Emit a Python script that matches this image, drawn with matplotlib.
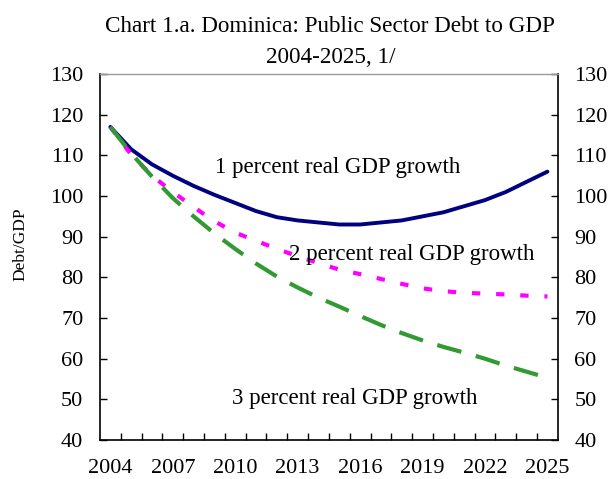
import matplotlib.pyplot as plt
from matplotlib.ticker import MultipleLocator

plt.rcParams['font.family'] = ['Liberation Serif', 'DejaVu Serif']

# data
years = list(range(2004, 2026))
growth_1pct = [117.0, 111.5, 107.8, 105.0, 102.5, 100.3, 98.3, 96.3, 94.8, 94.0, 93.5,
               93.0, 93.0, 93.5, 94.0, 95.0, 96.0, 97.5, 99.0, 101.0, 103.5, 106.0]
growth_2pct = [117.0, 110.2, 105.0, 101.0, 97.3, 93.8, 91.0, 89.0, 87.0, 85.2, 83.5,
               81.9, 80.8, 79.6, 78.4, 77.3, 76.6, 76.2, 76.0, 75.8, 75.5, 75.3]
growth_3pct = [117.0, 110.5, 104.8, 99.5, 95.0, 90.8, 87.0, 83.4, 80.2, 77.5, 75.0,
               72.8, 70.5, 68.3, 66.3, 64.5, 62.9, 61.5, 60.0, 58.3, 56.8, 55.3]
year_labels = [2004, 2007, 2010, 2013, 2016, 2019, 2022, 2025]

fig = plt.figure(figsize=(6.13, 4.79), dpi=100)
ax = fig.add_axes([0.163, 0.0814, 0.747, 0.764])

ax.plot(years, growth_1pct, color='#000080', lw=2.8, solid_capstyle='round')
ax.plot(years, growth_2pct, color='#ff00ff', lw=3, dashes=(2, 3.8))
ax.plot(years, growth_3pct, color='#339933', lw=3, dashes=(6, 3.6))

ax.set_xlim(2003.5, 2025.5)
ax.set_ylim(40, 130)
ax.yaxis.set_major_locator(MultipleLocator(10))
ax.set_xticks(year_labels)
ax.set_xticklabels([str(y) for y in year_labels])
ax.set_xticks([y + 0.5 for y in years[:-1]], minor=True)
ax.tick_params(axis='x', which='major', length=0, labelsize=16, pad=14)
ax.tick_params(axis='x', which='minor', direction='in', length=5, width=1)
ax.tick_params(axis='y', direction='in', length=5, width=1, labelsize=16, pad=12,
               left=True, right=True, labelleft=True, labelright=True)
ax.spines['top'].set_color('#999999')
ax.spines['top'].set_linewidth(1)
for s in ['left', 'right', 'bottom']:
    ax.spines[s].set_linewidth(1.2)

ax.set_ylabel('Debt/GDP', fontsize=12.5)
ax.yaxis.set_label_coords(-0.155, 0.535)

ax.text(2014.9, 107.1, '1 percent real GDP growth', fontsize=16.5, ha='center', va='center')
ax.text(2018.5, 85.5, '2 percent real GDP growth', fontsize=16.5, ha='center', va='center')
ax.text(2015.75, 50.3, '3 percent real GDP growth', fontsize=16.5, ha='center', va='center')

fig.text(0.538, 0.933, 'Chart 1.a. Dominica: Public Sector Debt to GDP', fontsize=16.7,
         ha='center', va='baseline')
fig.text(0.540, 0.868, '2004-2025, 1/', fontsize=16.7, ha='center', va='baseline')

fig.savefig('out.png', dpi=100)
